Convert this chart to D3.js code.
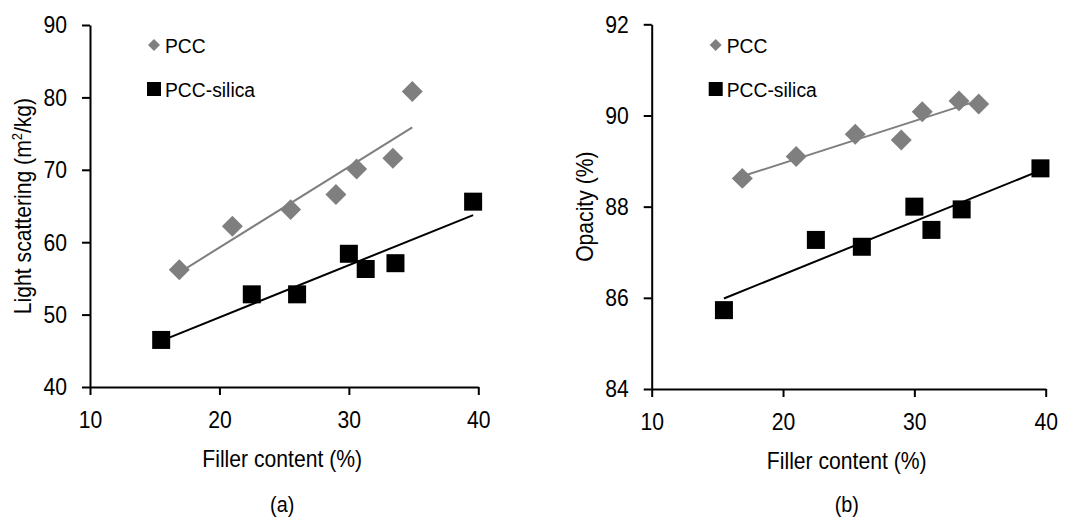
<!DOCTYPE html>
<html>
<head>
<meta charset="utf-8">
<script src="https://cdn.jsdelivr.net/npm/d3@7"></script>
<style>
  body { margin: 0; background: #fff; }
  svg text { font-family: "Liberation Sans", Arial, sans-serif; fill: #000; }
</style>
</head>
<body>
<svg id="chart" width="1070" height="517"></svg>
<script>
// filler content (%) for both fillers
const xTicks = [10, 20, 30, 40];
const pccFiller = [16.9, 21.0, 25.5, 29.0, 30.6, 33.4, 34.9];
const silicaFiller = [15.5, 22.5, 26.0, 30.0, 31.3, 33.6, 39.6];

// (a) light scattering (m2/kg)
const scatterTicks = [40, 50, 60, 70, 80, 90];
const pccScattering = [56.2, 62.2, 64.5, 66.6, 70.1, 71.6, 80.8];
const silicaScattering = [46.5, 52.8, 52.8, 58.4, 56.3, 57.1, 65.6];

// (b) opacity (%)
const opacityTicks = [84, 86, 88, 90, 92];
const pccOpacity = [88.62, 89.10, 89.59, 89.46, 90.08, 90.32, 90.25];
const silicaOpacity = [85.73, 87.27, 87.12, 88.00, 87.49, 87.94, 88.84];

const seriesNames = ["PCC", "PCC-silica"];
const panelLetters = ["(a)", "(b)"];

const SQ = 0.92; // text looks horizontally condensed in the original
const grey = "#7f7f7f";

const svg = d3.select("#chart");

const panels = [
  { letter: panelLetters[0], yTicks: scatterTicks, pcc: pccScattering, silica: silicaScattering,
    x0: 90, x1: 478.3, y0: 387, y1: 25, title: "scatter" },
  { letter: panelLetters[1], yTicks: opacityTicks, pcc: pccOpacity, silica: silicaOpacity,
    x0: 651.7, x1: 1045.7, y0: 389, y1: 24.3, title: "opacity" }
];

// condense text elements that d3.axis made
function squeeze(sel) {
  sel.each(function() {
    const t = d3.select(this);
    const x = +t.attr("x") || 0, y = +t.attr("y") || 0;
    t.attr("x", 0).attr("y", 0)
      .attr("transform", `translate(${x},${y}) scale(${SQ},1)`);
  });
}

function fit(xs, ys) {
  const mx = d3.mean(xs), my = d3.mean(ys);
  let sxy = 0, sxx = 0;
  xs.forEach((x, i) => { sxy += (x - mx) * (ys[i] - my); sxx += (x - mx) * (x - mx); });
  const b = sxy / sxx;
  const ext = d3.extent(xs);
  return ext.map(x => [x, my + b * (x - mx)]);
}

panels.forEach(p => {
  const x = d3.scaleLinear().domain([xTicks[0], xTicks[xTicks.length - 1]]).range([p.x0, p.x1]);
  const y = d3.scaleLinear().domain([p.yTicks[0], p.yTicks[p.yTicks.length - 1]]).range([p.y0, p.y1]);
  const g = svg.append("g");

  // axes
  const ya = g.append("g").attr("transform", `translate(${p.x0},0)`)
    .call(d3.axisLeft(y).tickValues(p.yTicks).tickSize(8).tickSizeOuter(0).tickPadding(15));
  const xa = g.append("g").attr("transform", `translate(0,${p.y0})`)
    .call(d3.axisBottom(x).tickValues(xTicks).tickSize(8).tickSizeOuter(0).tickPadding(17));
  [ya, xa].forEach(a => {
    a.select(".domain").attr("stroke", "#000").attr("stroke-width", 2);
    a.selectAll(".tick line").attr("stroke", "#000").attr("stroke-width", 2);
    a.selectAll("text").attr("font-size", 23).attr("font-family", null).attr("fill", "#000");
    squeeze(a.selectAll("text"));
  });
  ya.selectAll("text").attr("dy", "0.34em");

  // trend lines
  const line = d3.line().x(d => x(d[0])).y(d => y(d[1]));
  g.append("path").attr("d", line(fit(pccFiller, p.pcc)))
    .attr("fill", "none").attr("stroke", grey).attr("stroke-width", 2);
  g.append("path").attr("d", line(fit(silicaFiller, p.silica)))
    .attr("fill", "none").attr("stroke", "#000").attr("stroke-width", 2);

  // markers
  const diamond = d3.symbol().type(d3.symbolSquare).size(220);
  g.selectAll(".pcc").data(p.pcc).enter().append("path")
    .attr("d", diamond)
    .attr("transform", (d, i) => `translate(${x(pccFiller[i])},${y(d)}) rotate(45)`)
    .attr("fill", grey);
  g.selectAll(".silica").data(p.silica).enter().append("rect")
    .attr("x", (d, i) => x(silicaFiller[i]) - 9)
    .attr("y", d => y(d) - 9)
    .attr("width", 18).attr("height", 18)
    .attr("fill", "#000");

  // legend
  const lx = p.x0 + 64;
  g.append("path").attr("d", d3.symbol().type(d3.symbolSquare).size(72))
    .attr("transform", `translate(${lx},45) rotate(45)`).attr("fill", grey);
  g.append("text").attr("transform", `translate(${lx + 11},53) scale(${SQ},1)`)
    .attr("font-size", 21).text(seriesNames[0]);
  g.append("rect").attr("x", lx - 7).attr("y", 82).attr("width", 14).attr("height", 14).attr("fill", "#000");
  g.append("text").attr("transform", `translate(${lx + 11},97) scale(${SQ},1)`)
    .attr("font-size", 21).text(seriesNames[1]);

  // axis titles
  const cx = (p.x0 + p.x1) / 2 + 4;
  g.append("text").attr("transform", `translate(${cx - 6},${p.y0 + 80}) scale(${SQ},1)`)
    .attr("font-size", 23).attr("text-anchor", "middle").text("Filler content (%)");
  g.append("text").attr("transform", `translate(${cx - 6},512) scale(${SQ},1)`)
    .attr("font-size", 21.5).attr("text-anchor", "middle").text(p.letter);

  const yt = g.append("text")
    .attr("transform", `translate(${p.x0 - 67},${(p.y0 + p.y1) / 2}) rotate(-90) scale(${SQ},1)`)
    .attr("font-size", 23).attr("text-anchor", "middle").attr("dy", "0.35em");
  if (p.title === "scatter") {
    yt.append("tspan").text("Light scattering (m");
    yt.append("tspan").attr("font-size", 14).attr("dy", -9).text("2");
    yt.append("tspan").attr("dy", 9).text("/kg)");
  } else {
    yt.text("Opacity (%)");
  }
});
</script>
</body>
</html>
